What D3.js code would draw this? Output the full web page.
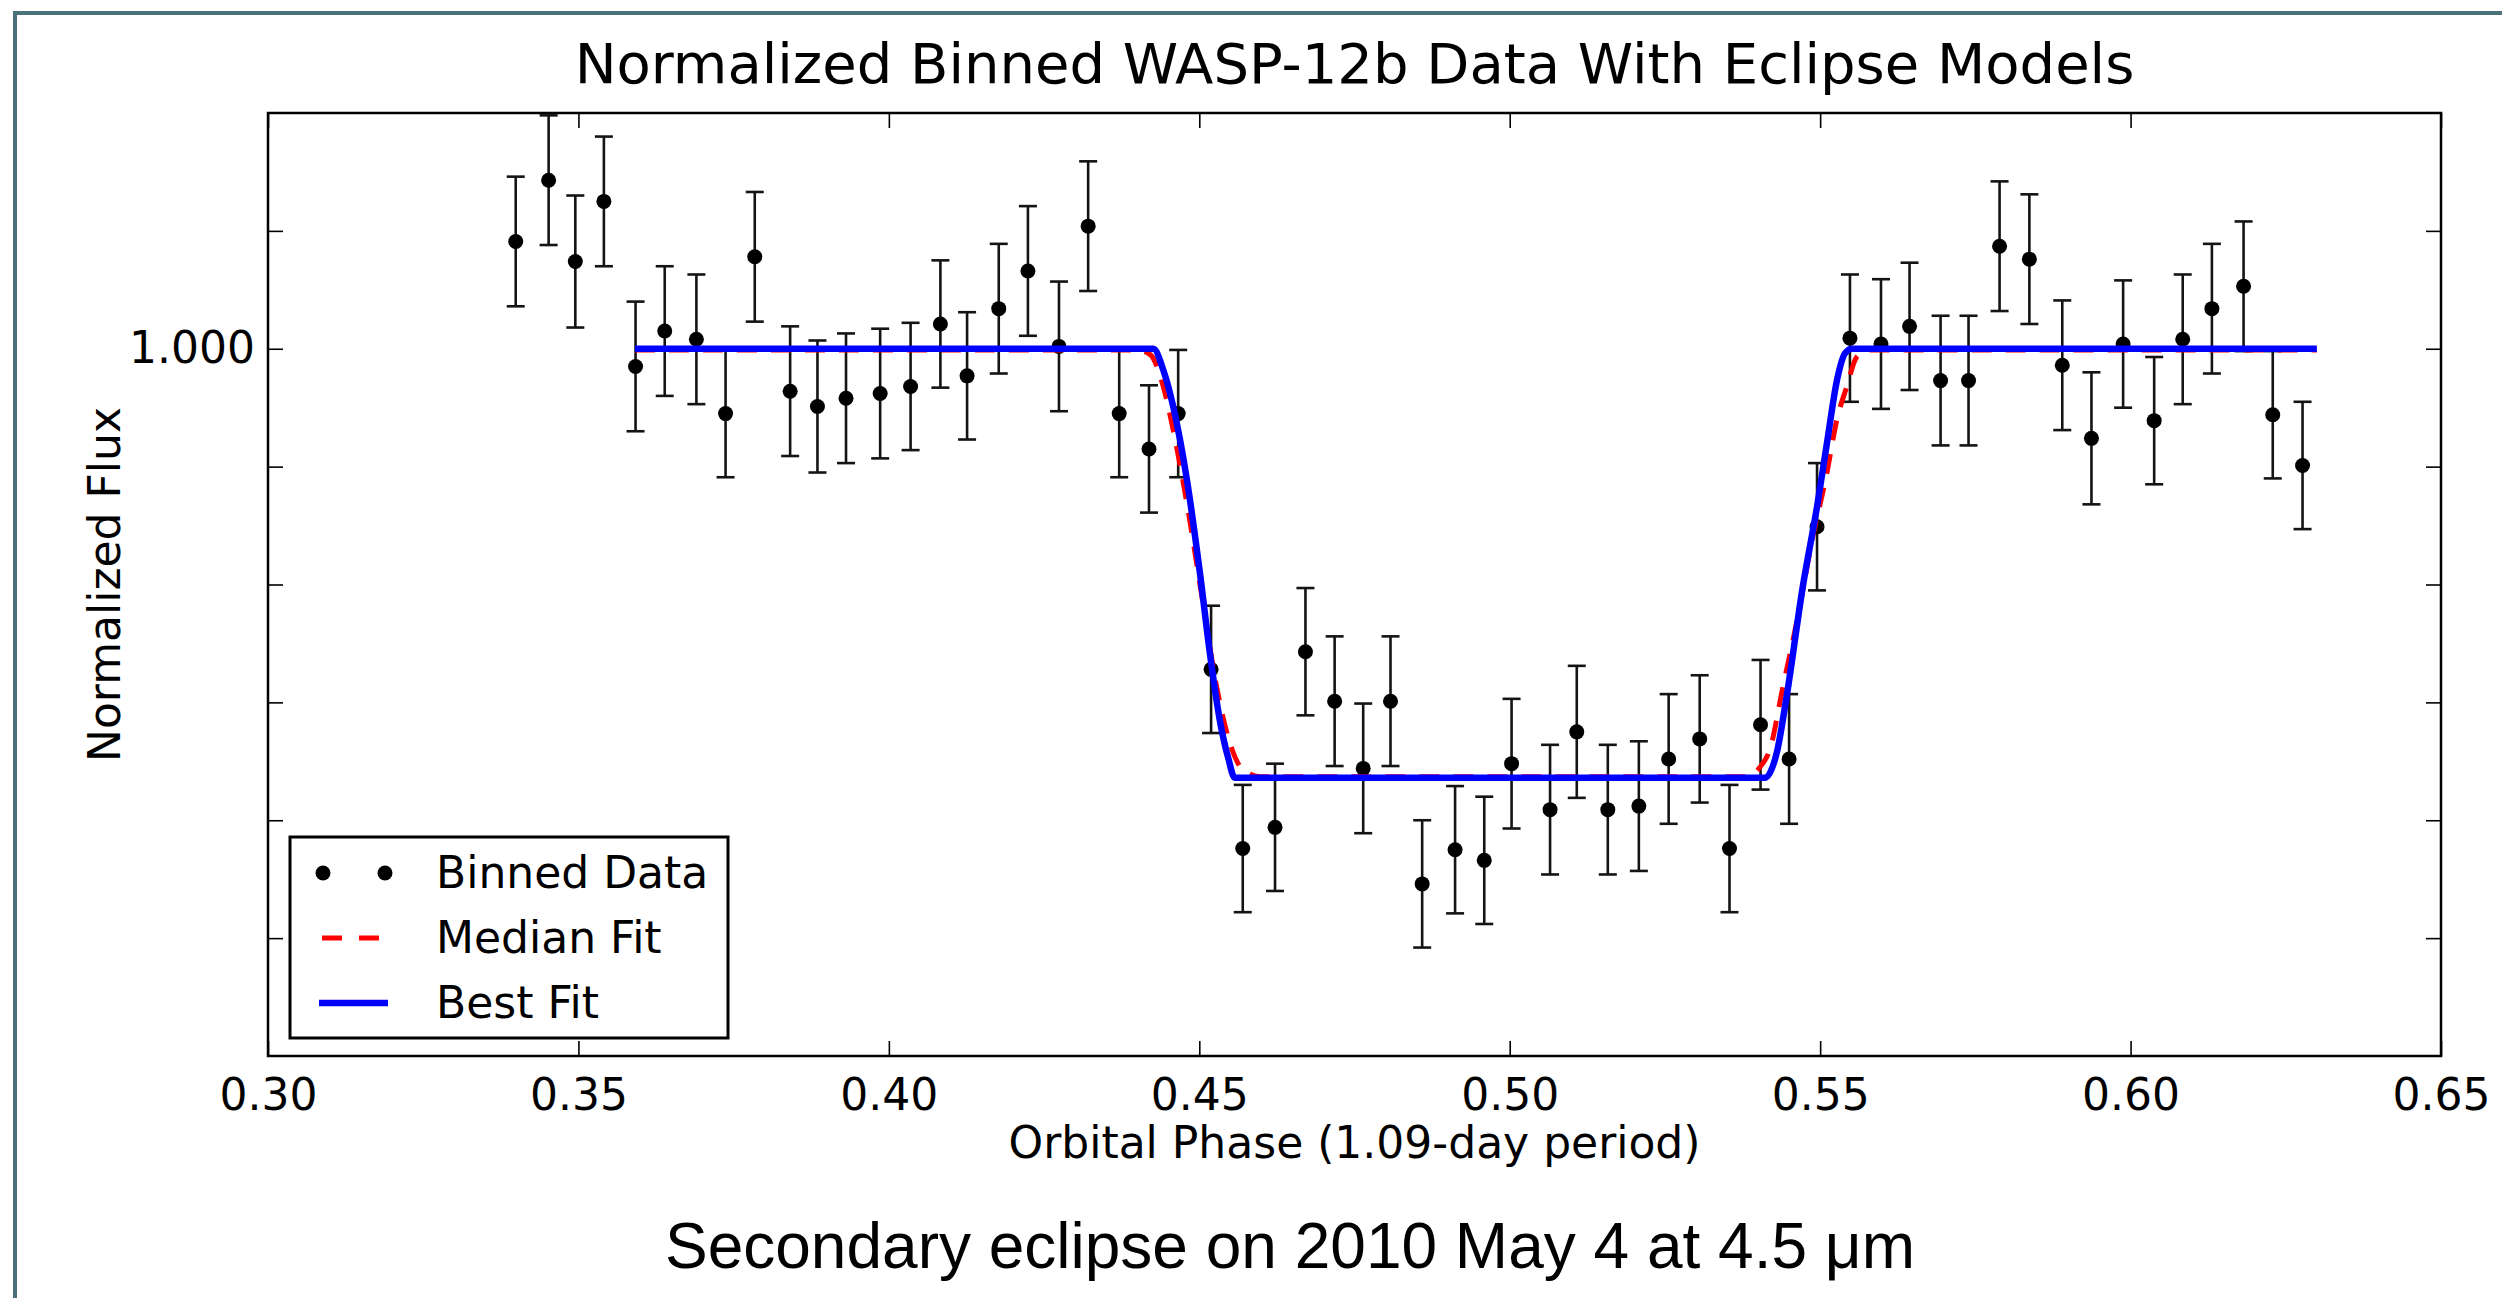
<!DOCTYPE html>
<html>
<head>
<meta charset="utf-8">
<script src="https://cdn.jsdelivr.net/npm/d3@7/dist/d3.min.js"></script>
<style>
  body { margin: 0; background: #fff; }
  svg { display: block; }
</style>
</head>
<body>
<div id="chart"></div>
<script>
// Binned data
const phase = [0.3399, 0.3452, 0.3495, 0.3541, 0.3592, 0.3639, 0.3690, 0.3737, 0.3784, 0.3841,
               0.3885, 0.3931, 0.3986, 0.4035, 0.4083, 0.4126, 0.4177, 0.4224, 0.4274, 0.4321,
               0.4371, 0.4419, 0.4466, 0.4519, 0.4570, 0.4622, 0.4671, 0.4718, 0.4764, 0.4808,
               0.4859, 0.4912, 0.4959, 0.5003, 0.5065, 0.5108, 0.5158, 0.5208, 0.5256, 0.5306,
               0.5354, 0.5404, 0.5450, 0.5495, 0.5548, 0.5598, 0.5644, 0.5694, 0.5739, 0.5789,
               0.5837, 0.5890, 0.5937, 0.5988, 0.6038, 0.6084, 0.6131, 0.6182, 0.6229, 0.6277];
const flux = [1.00091, 1.00143, 1.00074, 1.00125, 0.99985, 1.00015, 1.00008, 0.99945, 1.00078, 0.99964,
              0.99951, 0.99958, 0.99962, 0.99968, 1.00021, 0.99977, 1.00034, 1.00066, 1.00002, 1.00104,
              0.99945, 0.99915, 0.99945, 0.99728, 0.99576, 0.99594, 0.99743, 0.99701, 0.99644, 0.99701,
              0.99546, 0.99575, 0.99566, 0.99648, 0.99609, 0.99675, 0.99609, 0.99612, 0.99652, 0.99669,
              0.99576, 0.99681, 0.99652, 0.99849, 1.00009, 1.00004, 1.00019, 0.99973, 0.99973, 1.00087,
              1.00076, 0.99986, 0.99924, 1.00004, 0.99939, 1.00008, 1.00034, 1.00053, 0.99944, 0.99901];
const fluxErr = [0.00055, 0.00055, 0.00056, 0.00055, 0.00055, 0.00055, 0.00055, 0.00054, 0.00055, 0.00055,
                 0.00056, 0.00055, 0.00055, 0.00054, 0.00054, 0.00054, 0.00055, 0.00055, 0.00055, 0.00055,
                 0.00054, 0.00054, 0.00054, 0.00054, 0.00054, 0.00054, 0.00054, 0.00055, 0.00055, 0.00055,
                 0.00054, 0.00054, 0.00054, 0.00055, 0.00055, 0.00056, 0.00055, 0.00055, 0.00055, 0.00054,
                 0.00054, 0.00055, 0.00055, 0.00054, 0.00054, 0.00055, 0.00054, 0.00055, 0.00055, 0.00055,
                 0.00055, 0.00055, 0.00056, 0.00054, 0.00054, 0.00055, 0.00055, 0.00055, 0.00054, 0.00054];

// Eclipse models
const bestPhase = [0.3591, 0.4426, 0.4442, 0.4458, 0.4480, 0.4501, 0.4517, 0.4533, 0.4547, 0.4557,
                   0.5411, 0.5430, 0.5446, 0.5472, 0.5495, 0.5511, 0.5527, 0.5540, 0.5551, 0.6300];
const bestFlux = [1.00000, 1.00000, 0.99982, 0.99951, 0.99889, 0.99810, 0.99742, 0.99685, 0.99652, 0.99636,
                  0.99636, 0.99657, 0.99705, 0.99798, 0.99866, 0.99920, 0.99973, 0.99996, 1.00000, 1.00000];
const medianPhase = [0.3591, 0.4400, 0.4421, 0.4442, 0.4458, 0.4480, 0.4506, 0.4528, 0.4549, 0.4570, 0.4598,
                     0.5380, 0.5403, 0.5419, 0.5440, 0.5463, 0.5488, 0.5511, 0.5527, 0.5543, 0.5559, 0.5580, 0.6300];
const medianFlux = [0.99999, 0.99999, 0.99995, 0.99968, 0.99931, 0.99869, 0.99784, 0.99713, 0.99666, 0.99643, 0.99637,
                    0.99637, 0.99645, 0.99660, 0.99713, 0.99770, 0.99840, 0.99895, 0.99940, 0.99968, 0.99993, 0.99999, 0.99999];

const xTicks = [0.30, 0.35, 0.40, 0.45, 0.50, 0.55, 0.60, 0.65];
const xTickLabels = ["0.30", "0.35", "0.40", "0.45", "0.50", "0.55", "0.60", "0.65"];
const yTicks = [0.995, 0.996, 0.997, 0.998, 0.999, 1.000, 1.001];
const yTickLabels = ["", "", "", "", "", "1.000", ""];

const W = 2502, H = 1298;
const margin = { top: 113, right: 61, bottom: 242, left: 268 };
const width = W - margin.left - margin.right;
const height = H - margin.top - margin.bottom;
const font = "'DejaVu Sans', sans-serif";

const svg = d3.select("#chart").append("svg")
  .attr("width", W)
  .attr("height", H);

// marco exterior (solo arriba e izquierda)
svg.append("rect").attr("x", 13).attr("y", 11).attr("width", W - 13).attr("height", 4).attr("fill", "#4b717b");
svg.append("rect").attr("x", 13).attr("y", 11).attr("width", 4).attr("height", H - 11).attr("fill", "#4b717b");

const g = svg.append("g").attr("transform", `translate(${margin.left},${margin.top})`);

const x = d3.scaleLinear().domain([0.30, 0.65]).range([0, width]);
const y = d3.scaleLinear().domain([0.994, 1.002]).range([height, 0]);

g.append("clipPath").attr("id", "clip")
  .append("rect").attr("width", width).attr("height", height);

// ejes con ticks hacia dentro
const tick = 15;
function styleAxis(sel) {
  sel.select(".domain").remove();
  sel.selectAll(".tick line").attr("stroke", "#000").attr("stroke-width", 1.6);
  sel.selectAll(".tick text").attr("fill", "#000").style("font-family", font).style("font-size", "44px");
}
g.append("g").attr("transform", `translate(0,${height})`)
  .call(d3.axisBottom(x).tickValues(xTicks).tickSize(-tick).tickPadding(23)
    .tickFormat((d, i) => xTickLabels[i]))
  .call(styleAxis);
g.append("g")
  .call(d3.axisTop(x).tickValues(xTicks).tickSize(-tick).tickFormat(""))
  .call(styleAxis);
g.append("g")
  .call(d3.axisLeft(y).tickValues(yTicks).tickSize(-tick).tickPadding(13)
    .tickFormat((d, i) => yTickLabels[i]))
  .call(styleAxis);
g.append("g").attr("transform", `translate(${width},0)`)
  .call(d3.axisRight(y).tickValues(yTicks).tickSize(-tick).tickFormat(""))
  .call(styleAxis);

const plot = g.append("g").attr("clip-path", "url(#clip)");
const pts = phase.map((p, i) => ({ p, f: flux[i], e: fluxErr[i] }));

// barras de error
const cap = 9;
const eb = plot.append("g").attr("stroke", "#141414").attr("stroke-width", 2.6);
eb.selectAll(".bar").data(pts).enter().append("line")
  .attr("x1", d => x(d.p)).attr("x2", d => x(d.p))
  .attr("y1", d => y(d.f - d.e)).attr("y2", d => y(d.f + d.e));
eb.selectAll(".capTop").data(pts).enter().append("line")
  .attr("x1", d => x(d.p) - cap).attr("x2", d => x(d.p) + cap)
  .attr("y1", d => y(d.f + d.e)).attr("y2", d => y(d.f + d.e));
eb.selectAll(".capBot").data(pts).enter().append("line")
  .attr("x1", d => x(d.p) - cap).attr("x2", d => x(d.p) + cap)
  .attr("y1", d => y(d.f - d.e)).attr("y2", d => y(d.f - d.e));

plot.selectAll(".dot").data(pts).enter().append("circle")
  .attr("cx", d => x(d.p)).attr("cy", d => y(d.f)).attr("r", 7.5).attr("fill", "#000");

// modelos
const line = d3.line().x(d => x(d[0])).y(d => y(d[1])).curve(d3.curveMonotoneX);
plot.append("path")
  .datum(medianPhase.map((p, i) => [p, medianFlux[i]]))
  .attr("d", line).attr("fill", "none")
  .attr("stroke", "#ff0000").attr("stroke-width", 5).attr("stroke-dasharray", "20,14");
plot.append("path")
  .datum(bestPhase.map((p, i) => [p, bestFlux[i]]))
  .attr("d", line).attr("fill", "none")
  .attr("stroke", "#0000ff").attr("stroke-width", 6.5);

// marco del gráfico
g.append("rect").attr("width", width).attr("height", height)
  .attr("fill", "none").attr("stroke", "#000").attr("stroke-width", 2.5);

// textos
svg.append("text").attr("x", margin.left + width / 2).attr("y", 83)
  .attr("text-anchor", "middle").style("font-family", font).style("font-size", "56px")
  .text("Normalized Binned WASP-12b Data With Eclipse Models");
svg.append("text").attr("x", margin.left + width / 2).attr("y", 1158)
  .attr("text-anchor", "middle").style("font-family", font).style("font-size", "44px")
  .text("Orbital Phase (1.09-day period)");
svg.append("text").attr("transform", `translate(120,${margin.top + height / 2}) rotate(-90)`)
  .attr("text-anchor", "middle").style("font-family", font).style("font-size", "44px")
  .text("Normalized Flux");
svg.append("text").attr("x", 1290).attr("y", 1268)
  .attr("text-anchor", "middle").style("font-family", "'Liberation Sans', Arial, sans-serif").style("font-size", "64px")
  .text("Secondary eclipse on 2010 May 4 at 4.5 μm");

// leyenda
const lg = svg.append("g");
lg.append("rect").attr("x", 290).attr("y", 837).attr("width", 438).attr("height", 201)
  .attr("fill", "#fff").attr("stroke", "#000").attr("stroke-width", 3);
lg.selectAll(".ldot").data([323, 385]).enter().append("circle")
  .attr("cx", d => d).attr("cy", 873).attr("r", 7.5).attr("fill", "#000");
lg.append("line").attr("x1", 322).attr("x2", 380).attr("y1", 938).attr("y2", 938)
  .attr("stroke", "#ff0000").attr("stroke-width", 5).attr("stroke-dasharray", "20,17");
lg.append("line").attr("x1", 319).attr("x2", 388).attr("y1", 1003).attr("y2", 1003)
  .attr("stroke", "#0000ff").attr("stroke-width", 6.5);
lg.selectAll(".ltxt").data([["Binned Data", 888], ["Median Fit", 953], ["Best Fit", 1018]]).enter()
  .append("text").attr("x", 436).attr("y", d => d[1])
  .style("font-family", font).style("font-size", "44px").text(d => d[0]);
</script>
</body>
</html>
